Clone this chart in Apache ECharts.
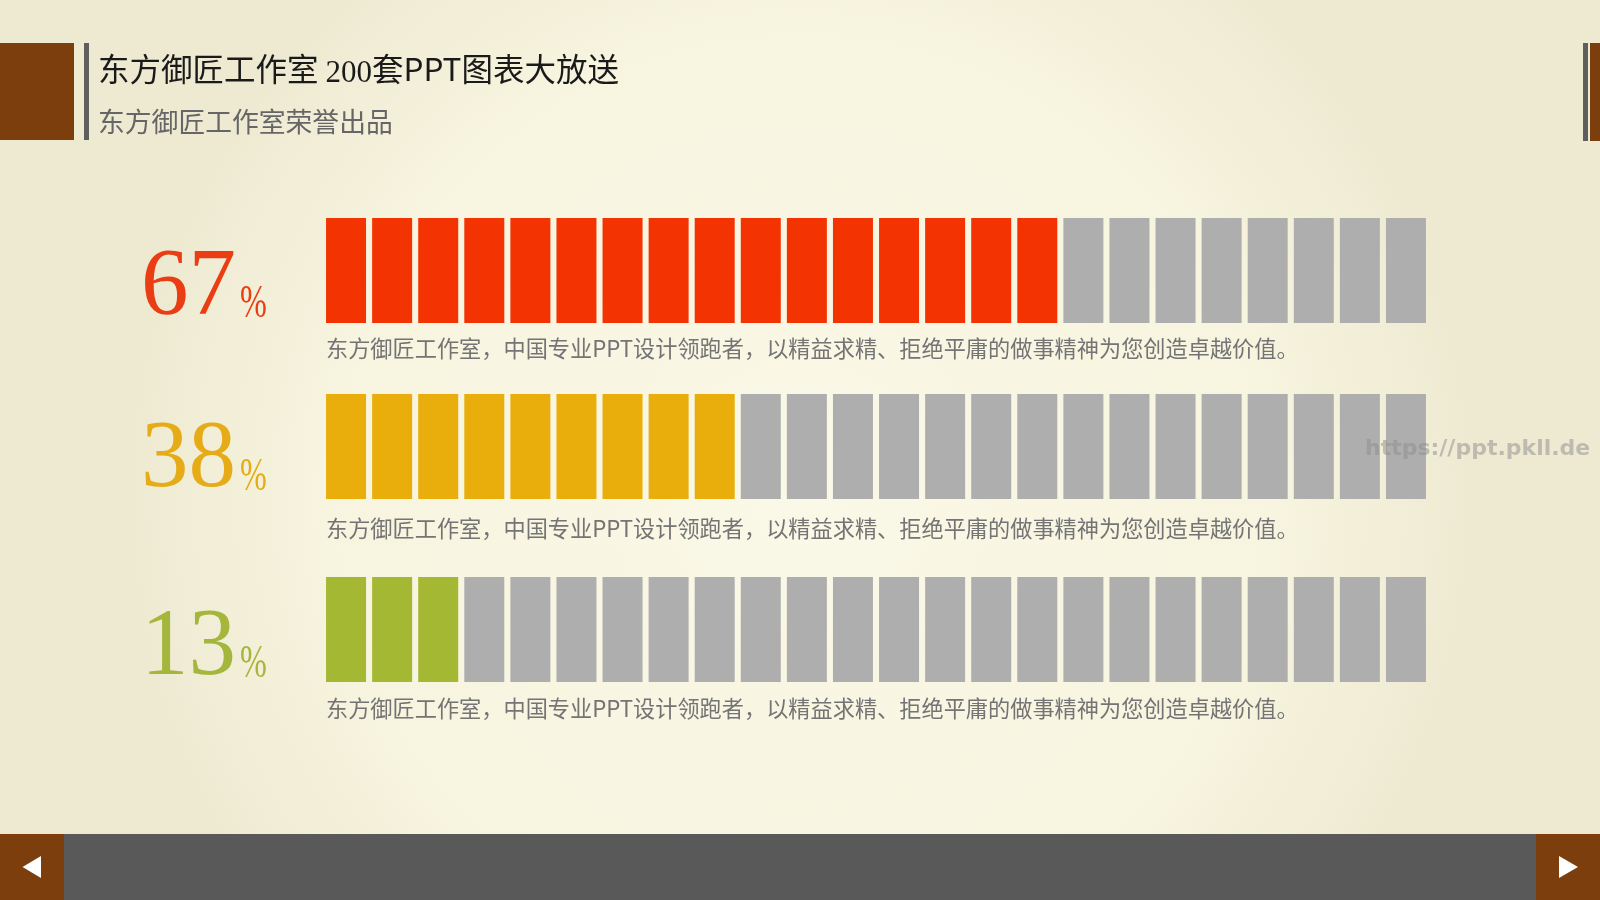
<!DOCTYPE html>
<html>
<head>
<meta charset="utf-8">
<style>
html,body{margin:0;padding:0;width:1600px;height:900px;overflow:hidden;}
#chart{width:1600px;height:900px;}
</style>
<script src="https://cdn.jsdelivr.net/npm/echarts@6/dist/echarts.min.js"></script>
</head>
<body>
<div id="chart"></div>
<script>
// ---- data ----
const titleText = '东方御匠工作室 200套PPT图表大放送';
const subtitleText = '东方御匠工作室荣誉出品';
const percents = [67, 38, 13];
const filledCells = [16, 9, 3];
const totalCells = 24;
const cellCategories = Array.from({length: totalCells}, (_, i) => String(i + 1));
const captions = [
  '东方御匠工作室，中国专业PPT设计领跑者，以精益求精、拒绝平庸的做事精神为您创造卓越价值。',
  '东方御匠工作室，中国专业PPT设计领跑者，以精益求精、拒绝平庸的做事精神为您创造卓越价值。',
  '东方御匠工作室，中国专业PPT设计领跑者，以精益求精、拒绝平庸的做事精神为您创造卓越价值。'
];
const watermark = 'https://ppt.pkll.de';

// ---- styles / layout ----
const fillColors = ['#F43302', '#E9AE0B', '#A5B834'];
const numColors = ['#EA3D14', '#E6AC18', '#A5B63C'];
const emptyColor = '#AEAEAE';
const rowTops = [218, 394, 577];
const rowHeight = 105;
const numOffsets = [71, 67.5, 72];
const capOffsets = [131, 134.5, 132];
const CJK = '"Noto Sans CJK SC", "Noto Sans", sans-serif';
const SERIF = '"Liberation Serif", "DejaVu Serif", serif';

const chart = echarts.init(document.getElementById('chart'));

const grids = [], xAxes = [], yAxes = [], series = [];
percents.forEach((p, r) => {
  grids.push({left: 323, width: 1106, top: rowTops[r], height: rowHeight});
  xAxes.push({type: 'category', gridIndex: r, data: cellCategories, show: false, boundaryGap: true});
  yAxes.push({type: 'value', gridIndex: r, min: 0, max: 1, show: false});
  series.push({
    type: 'bar', xAxisIndex: r, yAxisIndex: r, barWidth: 40, silent: true,
    animation: false,
    data: cellCategories.map((c, i) => ({
      value: 1,
      itemStyle: {color: i < filledCells[r] ? fillColors[r] : emptyColor}
    }))
  });
});

const graphics = [
  // header decorations
  {type: 'rect', shape: {x: 0, y: 43, width: 74, height: 97}, style: {fill: '#7C3E0C'}},
  {type: 'rect', shape: {x: 84, y: 43, width: 5, height: 97}, style: {fill: '#5E5E5E'}},
  {type: 'rect', shape: {x: 1583, y: 43, width: 5, height: 98}, style: {fill: '#5E5E5E'}},
  {type: 'rect', shape: {x: 1590, y: 43, width: 10, height: 98}, style: {fill: '#7C3E0C'}},
  // footer
  {type: 'rect', shape: {x: 0, y: 834, width: 1600, height: 66}, style: {fill: '#595959'}},
  {type: 'rect', shape: {x: 0, y: 834, width: 64, height: 66}, style: {fill: '#7C3E0C'}},
  {type: 'rect', shape: {x: 1536, y: 834, width: 64, height: 66}, style: {fill: '#7C3E0C'}},
  {type: 'polygon', shape: {points: [[22.5, 867], [41, 856], [41, 878]]}, style: {fill: '#FFFFFF'}},
  {type: 'polygon', shape: {points: [[1578, 867], [1559, 856], [1559, 878]]}, style: {fill: '#FFFFFF'}},
  // title
  {type: 'text', x: 98, y: 69, style: {
    text: '{a|东方御匠工作室 }{b|200}{a|套PPT图表大放送}',
    verticalAlign: 'middle', align: 'left',
    rich: {
      a: {fontSize: 31.5, fontFamily: CJK, fill: '#1A1A1A'},
      b: {fontSize: 31, fontFamily: SERIF, fill: '#1A1A1A', padding: [10, 0, 0, 0]}
    }
  }},
  {type: 'text', x: 98, y: 122, style: {
    text: subtitleText, fontSize: 26.8, fontFamily: CJK, fill: '#666666',
    verticalAlign: 'middle', align: 'left'
  }},
  // watermark
  {type: 'text', x: 1365, y: 449, z: 100, style: {
    text: watermark, fontSize: 22, fontWeight: 'bold', fontFamily: '"DejaVu Sans", sans-serif',
    fill: 'rgba(140,140,140,0.5)', verticalAlign: 'middle', align: 'left'
  }}
];

percents.forEach((p, r) => {
  graphics.push({type: 'text', x: 236, y: rowTops[r] + numOffsets[r], z: 50, style: {
    text: String(p), fontSize: 95, fontFamily: SERIF, fill: numColors[r],
    align: 'right', verticalAlign: 'middle'
  }});
  graphics.push({type: 'text', x: 240, y: rowTops[r] + numOffsets[r] + 16, scaleX: 0.7, originX: 0, originY: 0, z: 50, style: {
    text: '%', fontSize: 46, fontFamily: SERIF, fill: numColors[r],
    align: 'left', verticalAlign: 'middle'
  }});
  graphics.push({type: 'text', x: 326, y: rowTops[r] + capOffsets[r], style: {
    text: captions[r], fontSize: 22.2, fontFamily: CJK, fill: '#747474',
    align: 'left', verticalAlign: 'middle'
  }});
});

chart.setOption({
  animation: false,
  backgroundColor: {
    type: 'radial', x: 0.5, y: 0.55, r: 0.75,
    colorStops: [
      {offset: 0, color: '#FAF8E7'},
      {offset: 0.7, color: '#F7F4DF'},
      {offset: 1, color: '#EEEAD2'}
    ]
  },
  grid: grids,
  xAxis: xAxes,
  yAxis: yAxes,
  series: series,
  graphic: graphics
});
</script>
</body>
</html>
